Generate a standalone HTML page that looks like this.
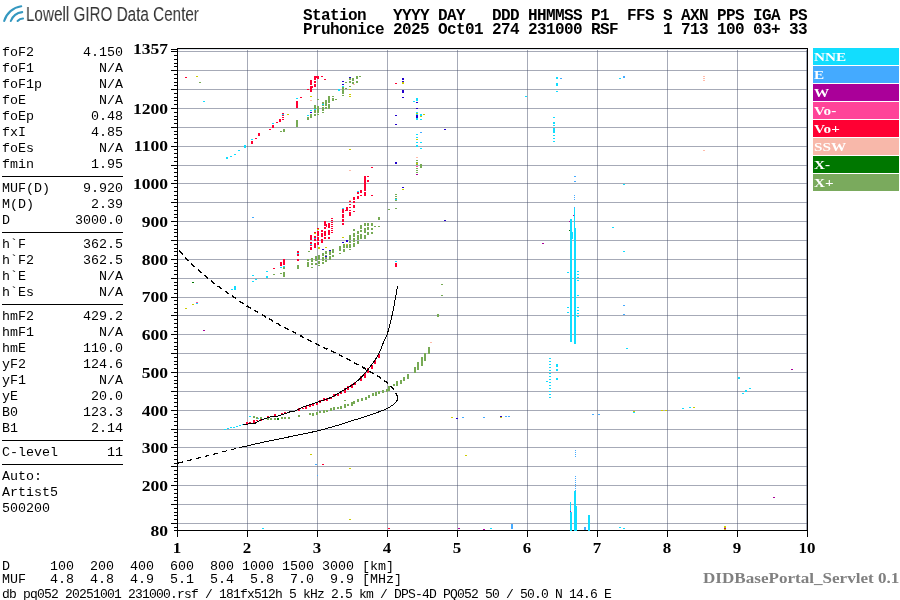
<!DOCTYPE html>
<html><head><meta charset="utf-8"><style>
*{margin:0;padding:0;box-sizing:border-box}
html,body{width:900px;height:600px;overflow:hidden;background:#fff;position:relative}
div{position:absolute;white-space:pre;will-change:transform}
.mono{font-family:"Liberation Mono",monospace}
.hdr{font-family:"Liberation Mono",monospace;font-weight:bold;font-size:16px;letter-spacing:-0.6px;line-height:14px;left:303px;top:9px;color:#000}
.lr{left:2px;width:121px;height:16px;font-family:"Liberation Mono",monospace;font-size:13.33px;line-height:16px;color:#000}
.lr .k{position:absolute;left:0}
.lr .v{position:absolute;right:0}
.sep{left:2px;width:121px;height:1px;background:#000}
.yl{left:108px;width:60px;text-align:right;font-family:"Liberation Serif",serif;font-weight:bold;font-size:14.5px;line-height:16px;color:#000;transform-origin:100% 50%;transform:scaleX(1.21)}
.xl{top:540px;width:40px;text-align:center;font-family:"Liberation Serif",serif;font-weight:bold;font-size:14.5px;line-height:16px;color:#000;transform-origin:50% 50%;transform:scaleX(1.17)}
.lg{left:813px;width:86px;height:17px;font-family:"Liberation Serif",serif;font-weight:bold;font-size:13px;line-height:17px;color:#fff;padding-left:2px} .lg span{position:absolute;left:0.5px;top:0px;transform-origin:0 50%;transform:scaleX(1.17)}
.bot{left:2px;font-family:"Liberation Mono",monospace;font-size:13.33px;line-height:13px;color:#000}
.db{left:2px;top:588px;font-family:"Liberation Mono",monospace;font-size:13px;letter-spacing:-0.8px;line-height:14px;color:#000}
.srv{left:703px;top:571px;font-family:"Liberation Serif",serif;font-weight:bold;font-size:14px;line-height:16px;color:#808080;transform-origin:0 0;transform:scaleX(1.22)}
.logo{left:26px;top:1px;font-family:"Liberation Sans",sans-serif;font-size:20px;line-height:26px;color:#333;transform-origin:0 0;transform:scaleX(0.7625)}
</style></head><body>
<svg width="30" height="30" style="position:absolute;left:0;top:0" viewBox="0 0 30 30">
<g fill="none" stroke="#3598c0" stroke-width="2.1" stroke-linecap="round">
<path d="M4.2 21 A20.5 20.5 0 0 1 21.2 6.3"/>
<path d="M10.8 21 A14 14 0 0 1 22.2 12.1"/>
<path d="M17.6 21 A8 8 0 0 1 23 18.5"/>
</g></svg>
<div class="logo">Lowell GIRO Data Center</div>
<div class="hdr">Station   YYYY DAY   DDD HHMMSS P1  FFS S AXN PPS IGA PS
Pruhonice 2025 Oct01 274 231000 RSF     1 713 100 03+ 33</div>
<div class="lr" style="top:44.5px"><span class="k">foF2</span><span class="v">4.150</span></div><div class="lr" style="top:60.5px"><span class="k">foF1</span><span class="v">N/A</span></div><div class="lr" style="top:76.5px"><span class="k">foF1p</span><span class="v">N/A</span></div><div class="lr" style="top:92.5px"><span class="k">foE</span><span class="v">N/A</span></div><div class="lr" style="top:108.5px"><span class="k">foEp</span><span class="v">0.48</span></div><div class="lr" style="top:124.5px"><span class="k">fxI</span><span class="v">4.85</span></div><div class="lr" style="top:140.5px"><span class="k">foEs</span><span class="v">N/A</span></div><div class="lr" style="top:156.5px"><span class="k">fmin</span><span class="v">1.95</span></div><div class="sep" style="top:176px"></div><div class="lr" style="top:180.5px"><span class="k">MUF(D)</span><span class="v">9.920</span></div><div class="lr" style="top:196.5px"><span class="k">M(D)</span><span class="v">2.39</span></div><div class="lr" style="top:212.5px"><span class="k">D</span><span class="v">3000.0</span></div><div class="sep" style="top:232px"></div><div class="lr" style="top:236.5px"><span class="k">h`F</span><span class="v">362.5</span></div><div class="lr" style="top:252.5px"><span class="k">h`F2</span><span class="v">362.5</span></div><div class="lr" style="top:268.5px"><span class="k">h`E</span><span class="v">N/A</span></div><div class="lr" style="top:284.5px"><span class="k">h`Es</span><span class="v">N/A</span></div><div class="sep" style="top:304px"></div><div class="lr" style="top:308.5px"><span class="k">hmF2</span><span class="v">429.2</span></div><div class="lr" style="top:324.5px"><span class="k">hmF1</span><span class="v">N/A</span></div><div class="lr" style="top:340.5px"><span class="k">hmE</span><span class="v">110.0</span></div><div class="lr" style="top:356.5px"><span class="k">yF2</span><span class="v">124.6</span></div><div class="lr" style="top:372.5px"><span class="k">yF1</span><span class="v">N/A</span></div><div class="lr" style="top:388.5px"><span class="k">yE</span><span class="v">20.0</span></div><div class="lr" style="top:404.5px"><span class="k">B0</span><span class="v">123.3</span></div><div class="lr" style="top:420.5px"><span class="k">B1</span><span class="v">2.14</span></div><div class="sep" style="top:440px"></div><div class="lr" style="top:444.5px"><span class="k">C-level</span><span class="v">11</span></div><div class="sep" style="top:464px"></div><div class="lr" style="top:468.5px"><span class="k">Auto:</span><span class="v"></span></div><div class="lr" style="top:484.5px"><span class="k">Artist5</span><span class="v"></span></div><div class="lr" style="top:500.5px"><span class="k">500200</span><span class="v"></span></div>
<svg width="900" height="600" style="position:absolute;left:0;top:0" shape-rendering="crispEdges">
<rect x="247" y="49" width="1" height="481" fill="rgba(70,78,105,0.48)"/><rect x="317" y="49" width="1" height="481" fill="rgba(70,78,105,0.48)"/><rect x="387" y="49" width="1" height="481" fill="rgba(70,78,105,0.48)"/><rect x="457" y="49" width="1" height="481" fill="rgba(70,78,105,0.48)"/><rect x="527" y="49" width="1" height="481" fill="rgba(70,78,105,0.48)"/><rect x="597" y="49" width="1" height="481" fill="rgba(70,78,105,0.48)"/><rect x="667" y="49" width="1" height="481" fill="rgba(70,78,105,0.48)"/><rect x="737" y="49" width="1" height="481" fill="rgba(70,78,105,0.48)"/><rect x="806" y="49" width="1" height="481" fill="rgba(70,78,105,0.48)"/><rect x="178" y="523" width="629" height="1" fill="rgba(70,78,105,0.48)"/><rect x="178" y="504" width="629" height="1" fill="rgba(70,78,105,0.48)"/><rect x="178" y="485" width="629" height="1" fill="rgba(70,78,105,0.48)"/><rect x="178" y="466" width="629" height="1" fill="rgba(70,78,105,0.48)"/><rect x="178" y="447" width="629" height="1" fill="rgba(70,78,105,0.48)"/><rect x="178" y="429" width="629" height="1" fill="rgba(70,78,105,0.48)"/><rect x="178" y="410" width="629" height="1" fill="rgba(70,78,105,0.48)"/><rect x="178" y="391" width="629" height="1" fill="rgba(70,78,105,0.48)"/><rect x="178" y="372" width="629" height="1" fill="rgba(70,78,105,0.48)"/><rect x="178" y="353" width="629" height="1" fill="rgba(70,78,105,0.48)"/><rect x="178" y="334" width="629" height="1" fill="rgba(70,78,105,0.48)"/><rect x="178" y="315" width="629" height="1" fill="rgba(70,78,105,0.48)"/><rect x="178" y="297" width="629" height="1" fill="rgba(70,78,105,0.48)"/><rect x="178" y="278" width="629" height="1" fill="rgba(70,78,105,0.48)"/><rect x="178" y="259" width="629" height="1" fill="rgba(70,78,105,0.48)"/><rect x="178" y="240" width="629" height="1" fill="rgba(70,78,105,0.48)"/><rect x="178" y="221" width="629" height="1" fill="rgba(70,78,105,0.48)"/><rect x="178" y="202" width="629" height="1" fill="rgba(70,78,105,0.48)"/><rect x="178" y="183" width="629" height="1" fill="rgba(70,78,105,0.48)"/><rect x="178" y="165" width="629" height="1" fill="rgba(70,78,105,0.48)"/><rect x="178" y="146" width="629" height="1" fill="rgba(70,78,105,0.48)"/><rect x="178" y="127" width="629" height="1" fill="rgba(70,78,105,0.48)"/><rect x="178" y="108" width="629" height="1" fill="rgba(70,78,105,0.48)"/><rect x="178" y="89" width="629" height="1" fill="rgba(70,78,105,0.48)"/><rect x="178" y="70" width="629" height="1" fill="rgba(70,78,105,0.48)"/><rect x="178" y="51" width="629" height="1" fill="rgba(70,78,105,0.48)"/><rect x="177" y="48" width="631" height="1" fill="#000"/><rect x="178" y="49" width="629" height="1" fill="#dfe2ea"/><rect x="177" y="48" width="1" height="489" fill="#000"/><rect x="807" y="48" width="1" height="489" fill="#000"/><rect x="177" y="530" width="631" height="1" fill="#000"/><rect x="177" y="530" width="1" height="7" fill="#000"/><rect x="247" y="530" width="1" height="7" fill="#000"/><rect x="317" y="530" width="1" height="7" fill="#000"/><rect x="387" y="530" width="1" height="7" fill="#000"/><rect x="457" y="530" width="1" height="7" fill="#000"/><rect x="527" y="530" width="1" height="7" fill="#000"/><rect x="597" y="530" width="1" height="7" fill="#000"/><rect x="667" y="530" width="1" height="7" fill="#000"/><rect x="737" y="530" width="1" height="7" fill="#000"/><rect x="807" y="530" width="1" height="7" fill="#000"/><rect x="174" y="530" width="3" height="1" fill="#000"/><rect x="174" y="527" width="3" height="1" fill="#000"/><rect x="171" y="523" width="6" height="1" fill="#000"/><rect x="174" y="519" width="3" height="1" fill="#000"/><rect x="174" y="515" width="3" height="1" fill="#000"/><rect x="174" y="512" width="3" height="1" fill="#000"/><rect x="174" y="508" width="3" height="1" fill="#000"/><rect x="171" y="504" width="6" height="1" fill="#000"/><rect x="174" y="500" width="3" height="1" fill="#000"/><rect x="174" y="497" width="3" height="1" fill="#000"/><rect x="174" y="493" width="3" height="1" fill="#000"/><rect x="174" y="489" width="3" height="1" fill="#000"/><rect x="171" y="485" width="6" height="1" fill="#000"/><rect x="174" y="481" width="3" height="1" fill="#000"/><rect x="174" y="478" width="3" height="1" fill="#000"/><rect x="174" y="474" width="3" height="1" fill="#000"/><rect x="174" y="470" width="3" height="1" fill="#000"/><rect x="171" y="466" width="6" height="1" fill="#000"/><rect x="174" y="463" width="3" height="1" fill="#000"/><rect x="174" y="459" width="3" height="1" fill="#000"/><rect x="174" y="455" width="3" height="1" fill="#000"/><rect x="174" y="451" width="3" height="1" fill="#000"/><rect x="171" y="447" width="6" height="1" fill="#000"/><rect x="174" y="444" width="3" height="1" fill="#000"/><rect x="174" y="440" width="3" height="1" fill="#000"/><rect x="174" y="436" width="3" height="1" fill="#000"/><rect x="174" y="432" width="3" height="1" fill="#000"/><rect x="171" y="429" width="6" height="1" fill="#000"/><rect x="174" y="425" width="3" height="1" fill="#000"/><rect x="174" y="421" width="3" height="1" fill="#000"/><rect x="174" y="417" width="3" height="1" fill="#000"/><rect x="174" y="414" width="3" height="1" fill="#000"/><rect x="171" y="410" width="6" height="1" fill="#000"/><rect x="174" y="406" width="3" height="1" fill="#000"/><rect x="174" y="402" width="3" height="1" fill="#000"/><rect x="174" y="398" width="3" height="1" fill="#000"/><rect x="174" y="395" width="3" height="1" fill="#000"/><rect x="171" y="391" width="6" height="1" fill="#000"/><rect x="174" y="387" width="3" height="1" fill="#000"/><rect x="174" y="383" width="3" height="1" fill="#000"/><rect x="174" y="380" width="3" height="1" fill="#000"/><rect x="174" y="376" width="3" height="1" fill="#000"/><rect x="171" y="372" width="6" height="1" fill="#000"/><rect x="174" y="368" width="3" height="1" fill="#000"/><rect x="174" y="364" width="3" height="1" fill="#000"/><rect x="174" y="361" width="3" height="1" fill="#000"/><rect x="174" y="357" width="3" height="1" fill="#000"/><rect x="171" y="353" width="6" height="1" fill="#000"/><rect x="174" y="349" width="3" height="1" fill="#000"/><rect x="174" y="346" width="3" height="1" fill="#000"/><rect x="174" y="342" width="3" height="1" fill="#000"/><rect x="174" y="338" width="3" height="1" fill="#000"/><rect x="171" y="334" width="6" height="1" fill="#000"/><rect x="174" y="331" width="3" height="1" fill="#000"/><rect x="174" y="327" width="3" height="1" fill="#000"/><rect x="174" y="323" width="3" height="1" fill="#000"/><rect x="174" y="319" width="3" height="1" fill="#000"/><rect x="171" y="315" width="6" height="1" fill="#000"/><rect x="174" y="312" width="3" height="1" fill="#000"/><rect x="174" y="308" width="3" height="1" fill="#000"/><rect x="174" y="304" width="3" height="1" fill="#000"/><rect x="174" y="300" width="3" height="1" fill="#000"/><rect x="171" y="297" width="6" height="1" fill="#000"/><rect x="174" y="293" width="3" height="1" fill="#000"/><rect x="174" y="289" width="3" height="1" fill="#000"/><rect x="174" y="285" width="3" height="1" fill="#000"/><rect x="174" y="282" width="3" height="1" fill="#000"/><rect x="171" y="278" width="6" height="1" fill="#000"/><rect x="174" y="274" width="3" height="1" fill="#000"/><rect x="174" y="270" width="3" height="1" fill="#000"/><rect x="174" y="266" width="3" height="1" fill="#000"/><rect x="174" y="263" width="3" height="1" fill="#000"/><rect x="171" y="259" width="6" height="1" fill="#000"/><rect x="174" y="255" width="3" height="1" fill="#000"/><rect x="174" y="251" width="3" height="1" fill="#000"/><rect x="174" y="248" width="3" height="1" fill="#000"/><rect x="174" y="244" width="3" height="1" fill="#000"/><rect x="171" y="240" width="6" height="1" fill="#000"/><rect x="174" y="236" width="3" height="1" fill="#000"/><rect x="174" y="232" width="3" height="1" fill="#000"/><rect x="174" y="229" width="3" height="1" fill="#000"/><rect x="174" y="225" width="3" height="1" fill="#000"/><rect x="171" y="221" width="6" height="1" fill="#000"/><rect x="174" y="217" width="3" height="1" fill="#000"/><rect x="174" y="214" width="3" height="1" fill="#000"/><rect x="174" y="210" width="3" height="1" fill="#000"/><rect x="174" y="206" width="3" height="1" fill="#000"/><rect x="171" y="202" width="6" height="1" fill="#000"/><rect x="174" y="199" width="3" height="1" fill="#000"/><rect x="174" y="195" width="3" height="1" fill="#000"/><rect x="174" y="191" width="3" height="1" fill="#000"/><rect x="174" y="187" width="3" height="1" fill="#000"/><rect x="171" y="183" width="6" height="1" fill="#000"/><rect x="174" y="180" width="3" height="1" fill="#000"/><rect x="174" y="176" width="3" height="1" fill="#000"/><rect x="174" y="172" width="3" height="1" fill="#000"/><rect x="174" y="168" width="3" height="1" fill="#000"/><rect x="171" y="165" width="6" height="1" fill="#000"/><rect x="174" y="161" width="3" height="1" fill="#000"/><rect x="174" y="157" width="3" height="1" fill="#000"/><rect x="174" y="153" width="3" height="1" fill="#000"/><rect x="174" y="149" width="3" height="1" fill="#000"/><rect x="171" y="146" width="6" height="1" fill="#000"/><rect x="174" y="142" width="3" height="1" fill="#000"/><rect x="174" y="138" width="3" height="1" fill="#000"/><rect x="174" y="134" width="3" height="1" fill="#000"/><rect x="174" y="131" width="3" height="1" fill="#000"/><rect x="171" y="127" width="6" height="1" fill="#000"/><rect x="174" y="123" width="3" height="1" fill="#000"/><rect x="174" y="119" width="3" height="1" fill="#000"/><rect x="174" y="116" width="3" height="1" fill="#000"/><rect x="174" y="112" width="3" height="1" fill="#000"/><rect x="171" y="108" width="6" height="1" fill="#000"/><rect x="174" y="104" width="3" height="1" fill="#000"/><rect x="174" y="100" width="3" height="1" fill="#000"/><rect x="174" y="97" width="3" height="1" fill="#000"/><rect x="174" y="93" width="3" height="1" fill="#000"/><rect x="171" y="89" width="6" height="1" fill="#000"/><rect x="174" y="85" width="3" height="1" fill="#000"/><rect x="174" y="82" width="3" height="1" fill="#000"/><rect x="174" y="78" width="3" height="1" fill="#000"/><rect x="174" y="74" width="3" height="1" fill="#000"/><rect x="171" y="70" width="6" height="1" fill="#000"/><rect x="174" y="66" width="3" height="1" fill="#000"/><rect x="174" y="63" width="3" height="1" fill="#000"/><rect x="174" y="59" width="3" height="1" fill="#000"/><rect x="174" y="55" width="3" height="1" fill="#000"/><rect x="171" y="51" width="6" height="1" fill="#000"/><rect x="171" y="49" width="6" height="1" fill="#000"/>
<rect x="185" y="77" width="2" height="1" fill="#ff0033"/><rect x="196" y="76" width="2" height="1" fill="#cccc00"/><rect x="199" y="82" width="2" height="1" fill="#77aa55"/><rect x="203" y="101" width="2" height="1" fill="#11ddff"/><rect x="226" y="157" width="2" height="2" fill="#11ddff"/><rect x="230" y="156" width="2" height="1" fill="#11ddff"/><rect x="234" y="154" width="2" height="1" fill="#11ddff"/><rect x="238" y="150" width="2" height="1" fill="#11ddff"/><rect x="244" y="145" width="2" height="3" fill="#11ddff"/><rect x="251" y="141" width="2" height="3" fill="#ff0033"/><rect x="251" y="139" width="2" height="1" fill="#11ddff"/><rect x="255" y="138" width="2" height="1" fill="#ff0033"/><rect x="258" y="133" width="2" height="3" fill="#ff0033"/><rect x="269" y="129" width="2" height="1" fill="#ff0033"/><rect x="272" y="125" width="2" height="3" fill="#ff0033"/><rect x="272" y="123" width="2" height="1" fill="#11ddff"/><rect x="276" y="122" width="2" height="1" fill="#ff0033"/><rect x="279" y="119" width="2" height="3" fill="#ff0033"/><rect x="282" y="113" width="2" height="1" fill="#ff0033"/><rect x="282" y="115" width="2" height="1" fill="#ff0033"/><rect x="282" y="117" width="2" height="1" fill="#ff0033"/><rect x="282" y="119" width="2" height="1" fill="#ff0033"/><rect x="282" y="114" width="2" height="1" fill="#11ddff"/><rect x="287" y="114" width="2" height="1" fill="#cccc00"/><rect x="280" y="131" width="2" height="1" fill="#77aa55"/><rect x="283" y="129" width="2" height="3" fill="#77aa55"/><rect x="296" y="120" width="2" height="7" fill="#77aa55"/><rect x="296" y="101" width="2" height="7" fill="#ff0033"/><rect x="296" y="98" width="2" height="1" fill="#11ddff"/><rect x="300" y="97" width="2" height="1" fill="#ff0033"/><rect x="307" y="89" width="2" height="1" fill="#ff0033"/><rect x="310" y="80" width="2" height="5" fill="#ff0033"/><rect x="310" y="86" width="2" height="6" fill="#ff0033"/><rect x="311" y="86" width="2" height="2" fill="#ff0033"/><rect x="314" y="76" width="2" height="4" fill="#ff0033"/><rect x="316" y="76" width="1" height="2" fill="#ff0033"/><rect x="314" y="81" width="2" height="2" fill="#ff0033"/><rect x="314" y="84" width="2" height="3" fill="#ff0033"/><rect x="317" y="76" width="2" height="3" fill="#ff0033"/><rect x="321" y="76" width="2" height="1" fill="#ff0033"/><rect x="324" y="79" width="2" height="1" fill="#ff0033"/><rect x="310" y="96" width="2" height="1" fill="#cccc00"/><rect x="310" y="100" width="2" height="1" fill="#ffbbaa"/><rect x="296" y="120" width="2" height="6" fill="#77aa55"/><rect x="307" y="117" width="2" height="3" fill="#77aa55"/><rect x="307" y="115" width="2" height="1" fill="#11ddff"/><rect x="310" y="114" width="2" height="4" fill="#77aa55"/><rect x="310" y="110" width="2" height="1" fill="#11ddff"/><rect x="310" y="112" width="2" height="1" fill="#2200cc"/><rect x="314" y="105" width="2" height="8" fill="#77aa55"/><rect x="314" y="114" width="2" height="2" fill="#77aa55"/><rect x="314" y="109" width="2" height="1" fill="#11ddff"/><rect x="317" y="99" width="2" height="1" fill="#77aa55"/><rect x="317" y="106" width="2" height="7" fill="#77aa55"/><rect x="317" y="114" width="2" height="1" fill="#77aa55"/><rect x="322" y="102" width="2" height="4" fill="#77aa55"/><rect x="322" y="107" width="2" height="4" fill="#77aa55"/><rect x="322" y="112" width="2" height="1" fill="#77aa55"/><rect x="322" y="104" width="2" height="1" fill="#11ddff"/><rect x="325" y="100" width="2" height="6" fill="#77aa55"/><rect x="325" y="107" width="2" height="2" fill="#77aa55"/><rect x="328" y="96" width="2" height="7" fill="#77aa55"/><rect x="328" y="104" width="2" height="5" fill="#77aa55"/><rect x="332" y="96" width="2" height="1" fill="#77aa55"/><rect x="332" y="98" width="2" height="3" fill="#77aa55"/><rect x="335" y="99" width="2" height="1" fill="#77aa55"/><rect x="338" y="89" width="2" height="2" fill="#11ddff"/><rect x="342" y="86" width="2" height="8" fill="#77aa55"/><rect x="342" y="95" width="2" height="1" fill="#77aa55"/><rect x="342" y="81" width="2" height="1" fill="#2200cc"/><rect x="342" y="84" width="2" height="1" fill="#2200cc"/><rect x="342" y="86" width="2" height="1" fill="#11ddff"/><rect x="345" y="82" width="2" height="1" fill="#77aa55"/><rect x="345" y="88" width="2" height="1" fill="#77aa55"/><rect x="349" y="78" width="2" height="2" fill="#77aa55"/><rect x="349" y="81" width="2" height="2" fill="#77aa55"/><rect x="349" y="77" width="2" height="1" fill="#2200cc"/><rect x="349" y="86" width="2" height="1" fill="#77aa55"/><rect x="349" y="89" width="2" height="1" fill="#cccc00"/><rect x="349" y="94" width="2" height="1" fill="#cccc00"/><rect x="349" y="96" width="2" height="1" fill="#cccc00"/><rect x="352" y="78" width="2" height="3" fill="#77aa55"/><rect x="352" y="82" width="2" height="2" fill="#77aa55"/><rect x="356" y="76" width="2" height="3" fill="#77aa55"/><rect x="356" y="81" width="2" height="2" fill="#77aa55"/><rect x="359" y="76" width="2" height="1" fill="#77aa55"/><rect x="353" y="84" width="2" height="1" fill="#ffbbaa"/><rect x="349" y="149" width="2" height="1" fill="#cccc00"/><rect x="349" y="170" width="2" height="1" fill="#ffbbaa"/><rect x="371" y="167" width="2" height="1" fill="#ff0033"/><rect x="364" y="176" width="2" height="14" fill="#ff0033"/><rect x="367" y="176" width="2" height="1" fill="#ff0033"/><rect x="367" y="180" width="2" height="2" fill="#ff0033"/><rect x="395" y="83" width="2" height="1" fill="#ff0033"/><rect x="402" y="78" width="2" height="2" fill="#2200cc"/><rect x="402" y="81" width="2" height="1" fill="#2200cc"/><rect x="402" y="82" width="2" height="2" fill="#cccc00"/><rect x="402" y="90" width="2" height="3" fill="#2200cc"/><rect x="402" y="97" width="2" height="1" fill="#2200cc"/><rect x="416" y="98" width="2" height="3" fill="#11ddff"/><rect x="413" y="101" width="2" height="1" fill="#11ddff"/><rect x="416" y="102" width="2" height="1" fill="#2200cc"/><rect x="416" y="108" width="2" height="1" fill="#2200cc"/><rect x="416" y="112" width="2" height="8" fill="#11ddff"/><rect x="416" y="115" width="2" height="3" fill="#2200cc"/><rect x="416" y="113" width="2" height="1" fill="#cccc00"/><rect x="420" y="114" width="2" height="2" fill="#11ddff"/><rect x="420" y="116" width="2" height="1" fill="#cccc00"/><rect x="423" y="114" width="2" height="1" fill="#cccc00"/><rect x="420" y="119" width="2" height="1" fill="#11ddff"/><rect x="395" y="115" width="2" height="1" fill="#2200cc"/><rect x="395" y="124" width="2" height="1" fill="#2200cc"/><rect x="444" y="129" width="2" height="1" fill="#2200cc"/><rect x="420" y="132" width="2" height="1" fill="#44aaff"/><rect x="416" y="134" width="2" height="1" fill="#11ddff"/><rect x="416" y="137" width="2" height="1" fill="#11ddff"/><rect x="416" y="139" width="2" height="1" fill="#cccc00"/><rect x="416" y="142" width="2" height="1" fill="#11ddff"/><rect x="416" y="145" width="2" height="2" fill="#11ddff"/><rect x="420" y="142" width="2" height="1" fill="#11ddff"/><rect x="420" y="148" width="2" height="1" fill="#11ddff"/><rect x="416" y="157" width="2" height="1" fill="#ffbbaa"/><rect x="416" y="160" width="2" height="1" fill="#77aa55"/><rect x="416" y="162" width="2" height="1" fill="#77aa55"/><rect x="416" y="164" width="2" height="1" fill="#77aa55"/><rect x="416" y="166" width="2" height="1" fill="#77aa55"/><rect x="416" y="168" width="2" height="1" fill="#77aa55"/><rect x="416" y="170" width="2" height="1" fill="#77aa55"/><rect x="416" y="172" width="2" height="1" fill="#77aa55"/><rect x="416" y="163" width="2" height="1" fill="#cccc00"/><rect x="416" y="166" width="2" height="1" fill="#ff4499"/><rect x="420" y="164" width="2" height="4" fill="#77aa55"/><rect x="416" y="174" width="2" height="1" fill="#aa0099"/><rect x="395" y="162" width="2" height="2" fill="#2200cc"/><rect x="402" y="187" width="2" height="1" fill="#2200cc"/><rect x="525" y="96" width="2" height="1" fill="#11ddff"/><rect x="556" y="77" width="2" height="2" fill="#11ddff"/><rect x="560" y="78" width="2" height="1" fill="#44aaff"/><rect x="556" y="83" width="2" height="3" fill="#11ddff"/><rect x="556" y="91" width="2" height="1" fill="#11ddff"/><rect x="553" y="117" width="2" height="1" fill="#11ddff"/><rect x="553" y="122" width="2" height="2" fill="#11ddff"/><rect x="553" y="125" width="2" height="1" fill="#11ddff"/><rect x="553" y="128" width="2" height="5" fill="#11ddff"/><rect x="553" y="135" width="2" height="1" fill="#11ddff"/><rect x="553" y="138" width="2" height="1" fill="#11ddff"/><rect x="553" y="141" width="2" height="1" fill="#11ddff"/><rect x="574" y="176" width="2" height="1" fill="#44aaff"/><rect x="574" y="181" width="2" height="1" fill="#44aaff"/><rect x="619" y="78" width="2" height="1" fill="#11ddff"/><rect x="623" y="76" width="2" height="2" fill="#44aaff"/><rect x="703" y="76" width="2" height="1" fill="#ffbbaa"/><rect x="703" y="78" width="2" height="1" fill="#ffbbaa"/><rect x="703" y="80" width="2" height="1" fill="#ffbbaa"/><rect x="703" y="150" width="2" height="1" fill="#ffbbaa"/><rect x="623" y="184" width="2" height="1" fill="#11ddff"/><rect x="252" y="217" width="2" height="1" fill="#44aaff"/><rect x="192" y="282" width="2" height="1" fill="#007700"/><rect x="185" y="308" width="2" height="1" fill="#cccc00"/><rect x="192" y="304" width="2" height="1" fill="#cccc00"/><rect x="196" y="302" width="2" height="2" fill="#ff4499"/><rect x="196" y="303" width="2" height="1" fill="#11ddff"/><rect x="234" y="286" width="2" height="4" fill="#11ddff"/><rect x="231" y="289" width="2" height="1" fill="#11ddff"/><rect x="252" y="275" width="2" height="1" fill="#11ddff"/><rect x="252" y="281" width="2" height="1" fill="#11ddff"/><rect x="255" y="279" width="2" height="1" fill="#11ddff"/><rect x="266" y="271" width="2" height="1" fill="#11ddff"/><rect x="266" y="276" width="2" height="2" fill="#11ddff"/><rect x="273" y="268" width="2" height="1" fill="#ff0033"/><rect x="273" y="274" width="2" height="1" fill="#77aa55"/><rect x="280" y="262" width="2" height="4" fill="#ff0033"/><rect x="280" y="267" width="2" height="1" fill="#11ddff"/><rect x="283" y="259" width="2" height="6" fill="#ff0033"/><rect x="283" y="266" width="2" height="1" fill="#11ddff"/><rect x="283" y="267" width="2" height="2" fill="#77aa55"/><rect x="283" y="272" width="2" height="5" fill="#77aa55"/><rect x="280" y="273" width="2" height="1" fill="#77aa55"/><rect x="297" y="251" width="2" height="5" fill="#ff0033"/><rect x="297" y="253" width="2" height="1" fill="#11ddff"/><rect x="297" y="259" width="2" height="2" fill="#ff0033"/><rect x="297" y="265" width="2" height="4" fill="#77aa55"/><rect x="310" y="235" width="2" height="5" fill="#ff0033"/><rect x="310" y="242" width="2" height="4" fill="#ff0033"/><rect x="310" y="247" width="2" height="3" fill="#ff0033"/><rect x="310" y="244" width="2" height="1" fill="#11ddff"/><rect x="314" y="232" width="2" height="2" fill="#ff0033"/><rect x="314" y="236" width="2" height="5" fill="#ff0033"/><rect x="314" y="243" width="2" height="5" fill="#ff0033"/><rect x="314" y="233" width="2" height="1" fill="#cccc00"/><rect x="314" y="238" width="2" height="1" fill="#44aaff"/><rect x="317" y="228" width="2" height="2" fill="#ff0033"/><rect x="317" y="231" width="2" height="5" fill="#ff0033"/><rect x="317" y="237" width="2" height="4" fill="#ff0033"/><rect x="317" y="242" width="2" height="3" fill="#ff0033"/><rect x="317" y="229" width="2" height="1" fill="#cccc00"/><rect x="321" y="230" width="2" height="2" fill="#ff0033"/><rect x="321" y="233" width="2" height="4" fill="#ff0033"/><rect x="321" y="239" width="2" height="4" fill="#ff0033"/><rect x="324" y="221" width="2" height="5" fill="#ff0033"/><rect x="324" y="227" width="2" height="2" fill="#ff0033"/><rect x="324" y="231" width="2" height="5" fill="#ff0033"/><rect x="324" y="237" width="2" height="2" fill="#ff0033"/><rect x="326" y="224" width="1" height="3" fill="#ff0033"/><rect x="328" y="223" width="2" height="5" fill="#ff0033"/><rect x="328" y="230" width="2" height="5" fill="#ff0033"/><rect x="328" y="237" width="2" height="2" fill="#ff0033"/><rect x="331" y="218" width="2" height="1" fill="#ff0033"/><rect x="331" y="220" width="2" height="1" fill="#ff0033"/><rect x="331" y="222" width="2" height="1" fill="#ff0033"/><rect x="331" y="224" width="2" height="1" fill="#ff0033"/><rect x="331" y="226" width="2" height="1" fill="#ff0033"/><rect x="331" y="228" width="2" height="1" fill="#ff0033"/><rect x="331" y="230" width="2" height="1" fill="#ff0033"/><rect x="331" y="232" width="2" height="1" fill="#ff0033"/><rect x="342" y="210" width="2" height="3" fill="#ff0033"/><rect x="342" y="214" width="2" height="4" fill="#ff0033"/><rect x="342" y="219" width="2" height="3" fill="#ff0033"/><rect x="342" y="223" width="2" height="2" fill="#ff0033"/><rect x="345" y="210" width="2" height="1" fill="#ff0033"/><rect x="349" y="212" width="2" height="1" fill="#ff0033"/><rect x="349" y="214" width="2" height="2" fill="#ff0033"/><rect x="342" y="209" width="2" height="2" fill="#ff0033"/><rect x="342" y="208" width="2" height="1" fill="#11ddff"/><rect x="346" y="207" width="2" height="4" fill="#ff0033"/><rect x="349" y="201" width="2" height="1" fill="#ff0033"/><rect x="349" y="204" width="2" height="1" fill="#ff0033"/><rect x="349" y="207" width="2" height="1" fill="#ff0033"/><rect x="349" y="210" width="2" height="1" fill="#ff0033"/><rect x="349" y="213" width="2" height="1" fill="#ff0033"/><rect x="349" y="200" width="2" height="1" fill="#ffbbaa"/><rect x="353" y="197" width="2" height="3" fill="#ff0033"/><rect x="353" y="201" width="2" height="2" fill="#ff0033"/><rect x="353" y="205" width="2" height="3" fill="#ff0033"/><rect x="353" y="211" width="2" height="1" fill="#ff0033"/><rect x="357" y="191" width="2" height="3" fill="#ff0033"/><rect x="357" y="196" width="2" height="3" fill="#ff0033"/><rect x="357" y="191" width="2" height="1" fill="#11ddff"/><rect x="360" y="190" width="2" height="3" fill="#ff0033"/><rect x="360" y="195" width="2" height="1" fill="#ff0033"/><rect x="364" y="186" width="2" height="2" fill="#ff0033"/><rect x="364" y="189" width="2" height="2" fill="#ff0033"/><rect x="364" y="192" width="2" height="4" fill="#ff0033"/><rect x="364" y="176" width="2" height="2" fill="#ff0033"/><rect x="364" y="180" width="2" height="4" fill="#ff0033"/><rect x="364" y="185" width="2" height="1" fill="#ff0033"/><rect x="367" y="176" width="2" height="1" fill="#ff0033"/><rect x="371" y="195" width="2" height="1" fill="#ff0033"/><rect x="307" y="259" width="2" height="2" fill="#77aa55"/><rect x="307" y="262" width="2" height="5" fill="#77aa55"/><rect x="311" y="258" width="2" height="4" fill="#77aa55"/><rect x="311" y="263" width="2" height="2" fill="#77aa55"/><rect x="311" y="267" width="2" height="1" fill="#77aa55"/><rect x="315" y="256" width="2" height="5" fill="#77aa55"/><rect x="315" y="263" width="2" height="2" fill="#77aa55"/><rect x="318" y="255" width="2" height="5" fill="#77aa55"/><rect x="318" y="261" width="2" height="3" fill="#77aa55"/><rect x="318" y="265" width="2" height="1" fill="#77aa55"/><rect x="322" y="253" width="2" height="3" fill="#77aa55"/><rect x="322" y="257" width="2" height="4" fill="#77aa55"/><rect x="322" y="262" width="2" height="2" fill="#77aa55"/><rect x="325" y="251" width="2" height="3" fill="#77aa55"/><rect x="325" y="255" width="2" height="4" fill="#77aa55"/><rect x="325" y="260" width="2" height="2" fill="#77aa55"/><rect x="329" y="250" width="2" height="5" fill="#77aa55"/><rect x="329" y="256" width="2" height="4" fill="#77aa55"/><rect x="332" y="249" width="2" height="4" fill="#77aa55"/><rect x="332" y="255" width="2" height="2" fill="#77aa55"/><rect x="339" y="246" width="2" height="5" fill="#77aa55"/><rect x="339" y="253" width="2" height="1" fill="#77aa55"/><rect x="343" y="244" width="2" height="4" fill="#77aa55"/><rect x="343" y="249" width="2" height="3" fill="#77aa55"/><rect x="346" y="244" width="2" height="4" fill="#77aa55"/><rect x="349" y="235" width="2" height="5" fill="#77aa55"/><rect x="349" y="241" width="2" height="2" fill="#77aa55"/><rect x="349" y="244" width="2" height="4" fill="#77aa55"/><rect x="349" y="249" width="2" height="1" fill="#77aa55"/><rect x="353" y="229" width="2" height="2" fill="#77aa55"/><rect x="353" y="233" width="2" height="4" fill="#77aa55"/><rect x="353" y="238" width="2" height="4" fill="#77aa55"/><rect x="353" y="243" width="2" height="4" fill="#77aa55"/><rect x="357" y="231" width="2" height="3" fill="#77aa55"/><rect x="357" y="235" width="2" height="5" fill="#77aa55"/><rect x="357" y="241" width="2" height="3" fill="#77aa55"/><rect x="360" y="225" width="2" height="4" fill="#77aa55"/><rect x="360" y="230" width="2" height="2" fill="#77aa55"/><rect x="360" y="234" width="2" height="5" fill="#77aa55"/><rect x="364" y="223" width="2" height="3" fill="#77aa55"/><rect x="364" y="228" width="2" height="5" fill="#77aa55"/><rect x="364" y="235" width="2" height="4" fill="#77aa55"/><rect x="367" y="223" width="2" height="3" fill="#77aa55"/><rect x="367" y="227" width="2" height="3" fill="#77aa55"/><rect x="367" y="232" width="2" height="3" fill="#77aa55"/><rect x="371" y="223" width="2" height="3" fill="#77aa55"/><rect x="371" y="228" width="2" height="2" fill="#77aa55"/><rect x="371" y="232" width="2" height="2" fill="#77aa55"/><rect x="308" y="251" width="2" height="1" fill="#77aa55"/><rect x="374" y="226" width="2" height="1" fill="#77aa55"/><rect x="378" y="217" width="2" height="3" fill="#77aa55"/><rect x="378" y="226" width="2" height="1" fill="#77aa55"/><rect x="322" y="249" width="2" height="1" fill="#2200cc"/><rect x="325" y="256" width="2" height="1" fill="#2200cc"/><rect x="329" y="250" width="2" height="1" fill="#2200cc"/><rect x="342" y="242" width="2" height="1" fill="#2200cc"/><rect x="346" y="240" width="2" height="2" fill="#2200cc"/><rect x="318" y="247" width="2" height="2" fill="#cccc00"/><rect x="325" y="247" width="2" height="1" fill="#cccc00"/><rect x="342" y="237" width="2" height="1" fill="#cccc00"/><rect x="346" y="244" width="2" height="1" fill="#cccc00"/><rect x="395" y="194" width="2" height="1" fill="#77aa55"/><rect x="395" y="196" width="2" height="1" fill="#77aa55"/><rect x="395" y="198" width="2" height="1" fill="#77aa55"/><rect x="395" y="200" width="2" height="1" fill="#77aa55"/><rect x="395" y="199" width="2" height="1" fill="#11ddff"/><rect x="388" y="209" width="2" height="1" fill="#77aa55"/><rect x="395" y="208" width="2" height="1" fill="#77aa55"/><rect x="402" y="189" width="2" height="1" fill="#cccc00"/><rect x="444" y="220" width="2" height="1" fill="#2200cc"/><rect x="395" y="261" width="2" height="1" fill="#11ddff"/><rect x="395" y="263" width="2" height="4" fill="#ff0033"/><rect x="441" y="284" width="2" height="1" fill="#77aa55"/><rect x="441" y="295" width="2" height="1" fill="#77aa55"/><rect x="437" y="314" width="2" height="3" fill="#77aa55"/><rect x="542" y="243" width="2" height="1" fill="#aa0099"/><rect x="570" y="219" width="2" height="123" fill="#11ddff"/><rect x="570" y="232" width="3" height="7" fill="#11ddff"/><rect x="574" y="228" width="2" height="116" fill="#11ddff"/><rect x="574" y="208" width="1" height="21" fill="#11ddff"/><rect x="574" y="195" width="1" height="1" fill="#44aaff"/><rect x="574" y="197" width="1" height="1" fill="#44aaff"/><rect x="574" y="199" width="1" height="1" fill="#44aaff"/><rect x="574" y="207" width="1" height="1" fill="#44aaff"/><rect x="569" y="221" width="1" height="1" fill="#aa0099"/><rect x="569" y="230" width="1" height="1" fill="#007700"/><rect x="573" y="215" width="1" height="1" fill="#aa0099"/><rect x="567" y="272" width="2" height="1" fill="#11ddff"/><rect x="577" y="271" width="2" height="1" fill="#11ddff"/><rect x="577" y="274" width="2" height="1" fill="#11ddff"/><rect x="577" y="277" width="2" height="1" fill="#11ddff"/><rect x="577" y="280" width="2" height="1" fill="#11ddff"/><rect x="577" y="295" width="2" height="1" fill="#11ddff"/><rect x="567" y="307" width="2" height="1" fill="#11ddff"/><rect x="567" y="312" width="2" height="1" fill="#11ddff"/><rect x="577" y="307" width="2" height="1" fill="#11ddff"/><rect x="577" y="310" width="2" height="1" fill="#11ddff"/><rect x="577" y="313" width="2" height="1" fill="#11ddff"/><rect x="577" y="316" width="2" height="1" fill="#11ddff"/><rect x="612" y="227" width="2" height="1" fill="#11ddff"/><rect x="623" y="251" width="2" height="1" fill="#11ddff"/><rect x="623" y="305" width="2" height="1" fill="#44aaff"/><rect x="623" y="314" width="2" height="1" fill="#44aaff"/><rect x="203" y="330" width="2" height="1" fill="#aa0099"/><rect x="310" y="454" width="2" height="1" fill="#cccc00"/><rect x="315" y="464" width="2" height="1" fill="#44aaff"/><rect x="322" y="464" width="2" height="1" fill="#ff0033"/><rect x="349" y="468" width="2" height="1" fill="#cccc00"/><rect x="317" y="475" width="1" height="1" fill="#44aaff"/><rect x="430" y="342" width="2" height="1" fill="#ffbbaa"/><rect x="549" y="358" width="2" height="1" fill="#11ddff"/><rect x="549" y="361" width="2" height="1" fill="#11ddff"/><rect x="549" y="364" width="2" height="1" fill="#11ddff"/><rect x="549" y="367" width="2" height="1" fill="#11ddff"/><rect x="549" y="370" width="2" height="1" fill="#11ddff"/><rect x="549" y="373" width="2" height="1" fill="#11ddff"/><rect x="549" y="376" width="2" height="1" fill="#11ddff"/><rect x="549" y="379" width="2" height="1" fill="#11ddff"/><rect x="549" y="382" width="2" height="1" fill="#11ddff"/><rect x="549" y="385" width="2" height="1" fill="#11ddff"/><rect x="549" y="388" width="2" height="1" fill="#11ddff"/><rect x="549" y="391" width="2" height="1" fill="#11ddff"/><rect x="549" y="394" width="2" height="1" fill="#11ddff"/><rect x="549" y="397" width="2" height="1" fill="#11ddff"/><rect x="556" y="364" width="2" height="3" fill="#11ddff"/><rect x="556" y="369" width="2" height="2" fill="#11ddff"/><rect x="556" y="378" width="2" height="2" fill="#11ddff"/><rect x="546" y="381" width="2" height="1" fill="#11ddff"/><rect x="451" y="417" width="2" height="1" fill="#cccc00"/><rect x="456" y="418" width="2" height="1" fill="#2200cc"/><rect x="462" y="417" width="2" height="1" fill="#44aaff"/><rect x="483" y="417" width="2" height="1" fill="#44aaff"/><rect x="500" y="416" width="2" height="1" fill="#2200cc"/><rect x="500" y="417" width="2" height="1" fill="#cccc00"/><rect x="505" y="416" width="2" height="1" fill="#44aaff"/><rect x="508" y="416" width="2" height="1" fill="#44aaff"/><rect x="592" y="414" width="2" height="1" fill="#44aaff"/><rect x="465" y="455" width="2" height="1" fill="#cccc00"/><rect x="575" y="450" width="1" height="1" fill="#44aaff"/><rect x="575" y="452" width="1" height="1" fill="#44aaff"/><rect x="575" y="454" width="1" height="1" fill="#44aaff"/><rect x="575" y="456" width="1" height="1" fill="#44aaff"/><rect x="626" y="348" width="2" height="1" fill="#11ddff"/><rect x="791" y="369" width="2" height="1" fill="#aa0099"/><rect x="738" y="377" width="2" height="2" fill="#11ddff"/><rect x="749" y="388" width="2" height="1" fill="#11ddff"/><rect x="745" y="390" width="2" height="2" fill="#11ddff"/><rect x="742" y="393" width="2" height="1" fill="#11ddff"/><rect x="598" y="414" width="2" height="1" fill="#44aaff"/><rect x="633" y="411" width="2" height="1" fill="#cccc00"/><rect x="633" y="412" width="2" height="1" fill="#11ddff"/><rect x="661" y="410" width="2" height="1" fill="#cccc00"/><rect x="665" y="410" width="2" height="1" fill="#cccc00"/><rect x="682" y="408" width="2" height="1" fill="#11ddff"/><rect x="689" y="407" width="2" height="1" fill="#11ddff"/><rect x="693" y="407" width="2" height="1" fill="#cccc00"/><rect x="262" y="528" width="2" height="1" fill="#11ddff"/><rect x="388" y="528" width="2" height="1" fill="#ff0033"/><rect x="458" y="528" width="2" height="1" fill="#aa0099"/><rect x="483" y="529" width="2" height="1" fill="#aa0099"/><rect x="490" y="528" width="2" height="1" fill="#11ddff"/><rect x="349" y="519" width="2" height="1" fill="#cccc00"/><rect x="575" y="476" width="1" height="1" fill="#44aaff"/><rect x="575" y="478" width="1" height="1" fill="#44aaff"/><rect x="575" y="480" width="1" height="1" fill="#44aaff"/><rect x="575" y="482" width="1" height="1" fill="#44aaff"/><rect x="575" y="484" width="1" height="1" fill="#44aaff"/><rect x="575" y="486" width="1" height="1" fill="#44aaff"/><rect x="575" y="488" width="1" height="1" fill="#44aaff"/><rect x="575" y="490" width="1" height="1" fill="#44aaff"/><rect x="574" y="491" width="2" height="1" fill="#aa0099"/><rect x="574" y="491" width="2" height="40" fill="#11ddff"/><rect x="570" y="502" width="1" height="29" fill="#11ddff"/><rect x="571" y="512" width="1" height="19" fill="#11ddff"/><rect x="575" y="506" width="2" height="25" fill="#11ddff"/><rect x="570" y="511" width="1" height="1" fill="#aa0099"/><rect x="584" y="527" width="2" height="3" fill="#44aaff"/><rect x="588" y="515" width="2" height="16" fill="#11ddff"/><rect x="619" y="527" width="2" height="1" fill="#11ddff"/><rect x="623" y="528" width="2" height="1" fill="#11ddff"/><rect x="511" y="524" width="2" height="5" fill="#44aaff"/><rect x="724" y="526" width="2" height="4" fill="#cccc00"/><rect x="724" y="528" width="2" height="1" fill="#aa0099"/><rect x="773" y="497" width="2" height="1" fill="#aa0099"/><rect x="246" y="422" width="2" height="3" fill="#ff0033"/><rect x="249" y="422" width="2" height="1" fill="#ff0033"/><rect x="253" y="420" width="2" height="3" fill="#ff0033"/><rect x="256" y="420" width="2" height="1" fill="#ff0033"/><rect x="260" y="418" width="2" height="3" fill="#ff0033"/><rect x="267" y="416" width="2" height="2" fill="#ff0033"/><rect x="270" y="416" width="2" height="1" fill="#ff0033"/><rect x="274" y="414" width="2" height="3" fill="#ff0033"/><rect x="281" y="413" width="2" height="2" fill="#ff0033"/><rect x="284" y="412" width="2" height="2" fill="#ff0033"/><rect x="288" y="412" width="2" height="1" fill="#ff0033"/><rect x="298" y="408" width="2" height="3" fill="#ff0033"/><rect x="302" y="408" width="2" height="1" fill="#ff0033"/><rect x="305" y="406" width="2" height="3" fill="#ff0033"/><rect x="309" y="405" width="2" height="2" fill="#ff0033"/><rect x="312" y="403" width="2" height="3" fill="#ff0033"/><rect x="316" y="402" width="2" height="3" fill="#ff0033"/><rect x="319" y="400" width="2" height="3" fill="#ff0033"/><rect x="323" y="398" width="2" height="3" fill="#ff0033"/><rect x="326" y="398" width="2" height="3" fill="#ff0033"/><rect x="330" y="397" width="2" height="2" fill="#ff0033"/><rect x="333" y="394" width="2" height="3" fill="#ff0033"/><rect x="337" y="393" width="2" height="3" fill="#ff0033"/><rect x="340" y="391" width="2" height="3" fill="#ff0033"/><rect x="344" y="388" width="2" height="5" fill="#ff0033"/><rect x="347" y="386" width="2" height="4" fill="#ff0033"/><rect x="351" y="384" width="2" height="4" fill="#ff0033"/><rect x="354" y="382" width="2" height="3" fill="#ff0033"/><rect x="360" y="376" width="2" height="5" fill="#ff0033"/><rect x="364" y="373" width="2" height="5" fill="#ff0033"/><rect x="367" y="368" width="2" height="5" fill="#ff0033"/><rect x="371" y="365" width="2" height="4" fill="#ff0033"/><rect x="374" y="360" width="2" height="4" fill="#ff0033"/><rect x="378" y="354" width="2" height="4" fill="#ff0033"/><rect x="224" y="429" width="2" height="1" fill="#11ddff"/><rect x="227" y="428" width="2" height="1" fill="#11ddff"/><rect x="230" y="427" width="2" height="1" fill="#11ddff"/><rect x="233" y="427" width="2" height="1" fill="#11ddff"/><rect x="236" y="426" width="2" height="1" fill="#11ddff"/><rect x="239" y="425" width="2" height="1" fill="#11ddff"/><rect x="242" y="424" width="2" height="1" fill="#11ddff"/><rect x="245" y="424" width="2" height="1" fill="#11ddff"/><rect x="249" y="416" width="2" height="1" fill="#11ddff"/><rect x="253" y="417" width="2" height="1" fill="#11ddff"/><rect x="257" y="418" width="2" height="1" fill="#11ddff"/><rect x="253" y="416" width="2" height="2" fill="#77aa55"/><rect x="256" y="417" width="2" height="2" fill="#77aa55"/><rect x="260" y="417" width="2" height="2" fill="#77aa55"/><rect x="267" y="418" width="2" height="2" fill="#77aa55"/><rect x="270" y="418" width="2" height="2" fill="#77aa55"/><rect x="274" y="418" width="2" height="2" fill="#77aa55"/><rect x="281" y="417" width="2" height="2" fill="#77aa55"/><rect x="284" y="417" width="2" height="2" fill="#77aa55"/><rect x="288" y="417" width="2" height="2" fill="#77aa55"/><rect x="298" y="415" width="2" height="2" fill="#77aa55"/><rect x="309" y="413" width="2" height="2" fill="#77aa55"/><rect x="312" y="413" width="2" height="3" fill="#77aa55"/><rect x="316" y="412" width="2" height="3" fill="#77aa55"/><rect x="319" y="411" width="2" height="2" fill="#77aa55"/><rect x="323" y="410" width="2" height="3" fill="#77aa55"/><rect x="326" y="410" width="2" height="2" fill="#77aa55"/><rect x="330" y="408" width="2" height="3" fill="#77aa55"/><rect x="333" y="407" width="2" height="3" fill="#77aa55"/><rect x="337" y="407" width="2" height="2" fill="#77aa55"/><rect x="340" y="406" width="2" height="3" fill="#77aa55"/><rect x="344" y="404" width="2" height="4" fill="#77aa55"/><rect x="347" y="404" width="2" height="2" fill="#77aa55"/><rect x="351" y="402" width="2" height="4" fill="#77aa55"/><rect x="353" y="401" width="2" height="3" fill="#77aa55"/><rect x="357" y="399" width="2" height="3" fill="#77aa55"/><rect x="361" y="398" width="2" height="3" fill="#77aa55"/><rect x="365" y="397" width="2" height="3" fill="#77aa55"/><rect x="368" y="395" width="2" height="3" fill="#77aa55"/><rect x="372" y="393" width="2" height="3" fill="#77aa55"/><rect x="375" y="392" width="2" height="4" fill="#77aa55"/><rect x="378" y="391" width="2" height="3" fill="#77aa55"/><rect x="382" y="390" width="2" height="3" fill="#77aa55"/><rect x="386" y="389" width="2" height="3" fill="#77aa55"/><rect x="388" y="386" width="2" height="5" fill="#77aa55"/><rect x="393" y="384" width="2" height="2" fill="#77aa55"/><rect x="396" y="381" width="2" height="5" fill="#77aa55"/><rect x="400" y="380" width="2" height="4" fill="#77aa55"/><rect x="403" y="377" width="2" height="4" fill="#77aa55"/><rect x="407" y="374" width="2" height="5" fill="#77aa55"/><rect x="414" y="367" width="2" height="6" fill="#77aa55"/><rect x="417" y="362" width="2" height="8" fill="#77aa55"/><rect x="421" y="357" width="2" height="9" fill="#77aa55"/><rect x="424" y="353" width="2" height="8" fill="#77aa55"/><rect x="428" y="347" width="2" height="7" fill="#77aa55"/><rect x="277" y="418" width="2" height="2" fill="#007700"/><rect x="344" y="400" width="2" height="1" fill="#77aa55"/>
</svg>
<svg width="900" height="600" style="position:absolute;left:0;top:0" shape-rendering="crispEdges">
<g fill="none" stroke="#000" stroke-width="1.0">
<path d="M239.50 447.60 C234.25 448.93 218.33 452.98 208.00 455.60 C197.67 458.22 182.58 462.02 177.50 463.30" stroke-dasharray="5 4" stroke-dashoffset="5" stroke-width="1.1"/>
<path d="M239.50 447.60 C240.83 447.32 244.37 446.61 247.48 445.90 C250.58 445.19 253.78 444.32 258.12 443.35 C262.48 442.38 268.04 441.23 273.57 440.07 C279.11 438.92 285.78 437.57 291.33 436.43 C296.88 435.28 302.04 434.26 306.88 433.23 C311.71 432.19 315.44 431.45 320.32 430.20 C325.21 428.95 330.52 427.45 336.20 425.75 C341.88 424.05 348.48 421.91 354.40 420.02 C360.32 418.14 366.50 416.25 371.70 414.45 C376.90 412.65 381.88 410.97 385.60 409.25 C389.32 407.53 392.04 405.67 394.00 404.15 C395.96 402.62 396.68 401.21 397.35 400.10 C398.02 398.99 397.89 397.93 398.00 397.50"/>
<path d="M398.00 397.50 C397.73 396.92 397.04 395.23 396.38 394.00 C395.71 392.77 395.00 391.50 394.00 390.12 C393.00 388.75 391.77 387.19 390.38 385.75 C388.98 384.31 387.40 382.89 385.62 381.50 C383.85 380.11 381.85 378.80 379.75 377.43 C377.65 376.05 375.32 374.62 373.00 373.23 C370.68 371.83 368.29 370.42 365.85 369.02 C363.41 367.63 360.89 366.25 358.35 364.88 C355.81 363.50 353.21 362.11 350.62 360.75 C348.04 359.39 345.46 358.05 342.85 356.72 C340.24 355.40 337.60 354.11 334.95 352.82 C332.30 351.54 329.59 350.28 326.92 349.00 C324.26 347.72 321.60 346.44 318.97 345.15 C316.35 343.86 313.76 342.57 311.20 341.27 C308.64 339.98 306.14 338.69 303.62 337.38 C301.11 336.06 298.65 334.70 296.10 333.38 C293.55 332.05 290.93 330.74 288.33 329.40 C285.72 328.06 283.02 326.72 280.45 325.32 C277.88 323.93 275.38 322.47 272.90 321.05 C270.42 319.63 268.07 318.24 265.55 316.80 C263.03 315.36 260.40 313.90 257.80 312.40 C255.20 310.90 252.44 309.33 249.92 307.80 C247.41 306.27 245.04 304.77 242.70 303.23 C240.36 301.68 238.22 300.15 235.90 298.55 C233.58 296.95 231.19 295.26 228.80 293.62 C226.41 291.99 223.88 290.35 221.55 288.73 C219.22 287.10 217.01 285.57 214.82 283.90 C212.64 282.23 210.56 280.49 208.42 278.72 C206.29 276.96 204.11 275.11 202.02 273.32 C199.94 271.54 197.90 269.79 195.93 268.00 C193.95 266.21 192.13 264.50 190.20 262.57 C188.27 260.65 186.38 258.65 184.32 256.43 C182.27 254.20 178.97 250.40 177.90 249.20" stroke-dasharray="5 3.7" stroke-width="1.4"/>
<path d="M243.00 424.50 C243.83 424.42 246.08 424.17 248.00 424.00 C249.92 423.83 252.83 423.92 254.50 423.50 C256.17 423.08 256.42 422.25 258.00 421.50 C259.58 420.75 262.00 419.75 264.00 419.00 C266.00 418.25 268.00 417.42 270.00 417.00 C272.00 416.58 273.83 416.92 276.00 416.50 C278.17 416.08 280.50 415.33 283.00 414.50 C285.50 413.67 289.00 412.08 291.00 411.50 C293.00 410.92 292.67 411.87 295.00 411.00 C297.33 410.13 301.67 407.63 305.00 406.30 C308.33 404.97 311.83 404.05 315.00 403.00 C318.17 401.95 321.17 401.00 324.00 400.00 C326.83 399.00 329.33 398.28 332.00 397.00 C334.67 395.72 337.67 393.68 340.00 392.30 C342.33 390.92 344.00 389.92 346.00 388.70 C348.00 387.48 349.92 386.45 352.00 385.00 C354.08 383.55 356.67 381.58 358.50 380.00 C360.33 378.42 361.50 377.17 363.00 375.50 C364.50 373.83 366.08 371.75 367.50 370.00 C368.92 368.25 370.25 366.67 371.50 365.00 C372.75 363.33 373.92 361.67 375.00 360.00 C376.08 358.33 377.08 356.67 378.00 355.00 C378.92 353.33 379.50 352.33 380.50 350.00 C381.50 347.67 382.83 343.78 384.00 341.00 C385.17 338.22 386.08 337.92 387.50 333.30 C388.92 328.68 390.83 321.13 392.50 313.30 C394.17 305.47 396.67 290.80 397.50 286.30"/>
</g></svg>
<div class="yl" style="top:41.4px">1357</div><div class="yl" style="top:100.7px">1200</div><div class="yl" style="top:138.4px">1100</div><div class="yl" style="top:176.1px">1000</div><div class="yl" style="top:213.8px">900</div><div class="yl" style="top:251.6px">800</div><div class="yl" style="top:289.3px">700</div><div class="yl" style="top:327.0px">600</div><div class="yl" style="top:364.7px">500</div><div class="yl" style="top:402.5px">400</div><div class="yl" style="top:440.2px">300</div><div class="yl" style="top:477.9px">200</div><div class="yl" style="top:523.2px">80</div><div class="xl" style="left:157px">1</div><div class="xl" style="left:227px">2</div><div class="xl" style="left:297px">3</div><div class="xl" style="left:367px">4</div><div class="xl" style="left:437px">5</div><div class="xl" style="left:507px">6</div><div class="xl" style="left:577px">7</div><div class="xl" style="left:647px">8</div><div class="xl" style="left:717px">9</div><div class="xl" style="left:787px">10</div>
<div class="lg" style="top:48px;background:#12ddfe"><span>NNE</span></div><div class="lg" style="top:66px;background:#44aaff"><span>E</span></div><div class="lg" style="top:84px;background:#aa0099"><span>W</span></div><div class="lg" style="top:102px;background:#ff4499"><span>Vo-</span></div><div class="lg" style="top:120px;background:#ff0033"><span>Vo+</span></div><div class="lg" style="top:138px;background:#f8b8aa"><span>SSW</span></div><div class="lg" style="top:156px;background:#007700"><span>X-</span></div><div class="lg" style="top:174px;background:#7aaa5d"><span>X+</span></div>
<div class="bot" style="top:560px">D     100  200  400  600  800 1000 1500 3000 [km]</div>
<div class="bot" style="top:573px">MUF   4.8  4.8  4.9  5.1  5.4  5.8  7.0  9.9 [MHz]</div>
<div class="db">db pq052 20251001 231000.rsf / 181fx512h 5 kHz 2.5 km / DPS-4D PQ052 50 / 50.0 N 14.6 E</div>
<div class="srv">DIDBasePortal_Servlet 0.1</div>
</body></html>
